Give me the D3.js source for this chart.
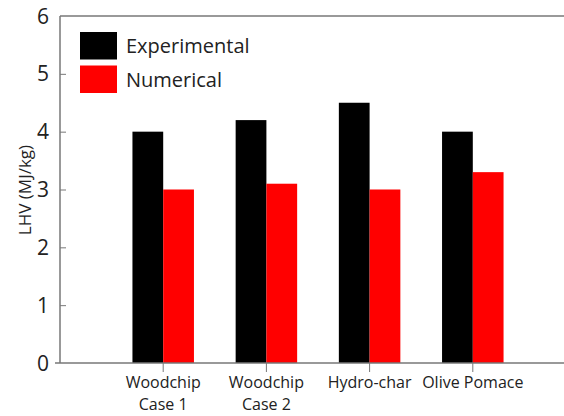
<!DOCTYPE html>
<html><head><meta charset="utf-8">
<script src="https://cdn.jsdelivr.net/npm/d3@7"></script>
<style>body{margin:0;background:#fff}svg{display:block}text{font-family:"Open Sans",sans-serif;fill:#222}</style>
</head><body><svg id="c" width="564" height="416"></svg>
<script>
const categories = [["Woodchip","Case 1"],["Woodchip","Case 2"],["Hydro-char"],["Olive Pomace"]];
const seriesNames = ["Experimental","Numerical"];
const seriesColors = ["#000000","#ff0000"];
const experimental = [4.0, 4.2, 4.5, 4.0];
const numerical = [3.0, 3.1, 3.0, 3.3];
const yTicks = [0,1,2,3,4,5,6];

const svg = d3.select("#c");
const W = 564, H = 416;
const y0 = 363, y6 = 16, xL = 60;
const y = d3.scaleLinear().domain([0,6]).range([y0,y6]);
const keys = categories.map(c=>c.join(" "));
const x = d3.scaleBand().domain(keys).range([111.6, 524.4]).paddingInner(0.4).paddingOuter(0.2);
const groupW = 61.5;
const xi = d3.scaleBand().domain(seriesNames).range([0, groupW]).padding(0);
const data = [experimental, numerical];

// bars
keys.forEach((k,i)=>{
  const cx = x(k) + x.bandwidth()/2;
  seriesNames.forEach((s,j)=>{
    const v = data[j][i];
    svg.append("rect").attr("x", cx - groupW/2 + xi(s)).attr("y", y(v))
      .attr("width", xi.bandwidth()).attr("height", y(0)-y(v)).attr("fill", seriesColors[j]);
  });
});

const axisColor = "#777";
// frame lines
svg.append("line").attr("x1",xL).attr("x2",W).attr("y1",y6).attr("y2",y6).attr("stroke",axisColor).attr("stroke-width",1.5);
svg.append("line").attr("x1",55).attr("x2",W).attr("y1",y0).attr("y2",y0).attr("stroke",axisColor).attr("stroke-width",1.5);

// y axis
const ya = svg.append("g").attr("transform",`translate(${xL},0)`)
  .call(d3.axisRight(y).tickValues(yTicks).tickSize(6).tickFormat(""));
ya.select(".domain").attr("stroke",axisColor).attr("stroke-width",1.5).attr("d",`M0,${y6}V${y0}`);
ya.selectAll(".tick line").attr("stroke",axisColor).attr("stroke-width",1);
ya.selectAll(".tick").filter(d=>d===0||d===6).select("line").remove();
yTicks.forEach(t=>{
  svg.append("text").attr("x",49).attr("y",y(t)).attr("dy","0.36em").attr("text-anchor","end")
    .attr("font-size",21).text(t);
});

// x ticks
keys.forEach(k=>{
  const cx = x(k)+x.bandwidth()/2;
  svg.append("line").attr("x1",cx).attr("x2",cx).attr("y1",y0).attr("y2",y0+9).attr("stroke",axisColor);
});
categories.forEach((c,i)=>{
  const cx = x(keys[i])+x.bandwidth()/2;
  c.forEach((line,li)=>{
    svg.append("text").attr("x",cx).attr("y",388+li*22).attr("text-anchor","middle")
      .attr("font-size",16).text(line);
  });
});

// y title
svg.append("text").attr("transform","translate(31,190) rotate(-90)").attr("text-anchor","middle")
  .attr("font-size",17).text("LHV (MJ/kg)");

// legend
seriesNames.forEach((s,j)=>{
  svg.append("rect").attr("x",80).attr("y",32+j*33.5).attr("width",37).attr("height",27.5).attr("fill",seriesColors[j]);
  svg.append("text").attr("x",126).attr("y",46+j*33.5).attr("dy","0.36em").attr("font-size",20).text(s);
});
</script></body></html>
